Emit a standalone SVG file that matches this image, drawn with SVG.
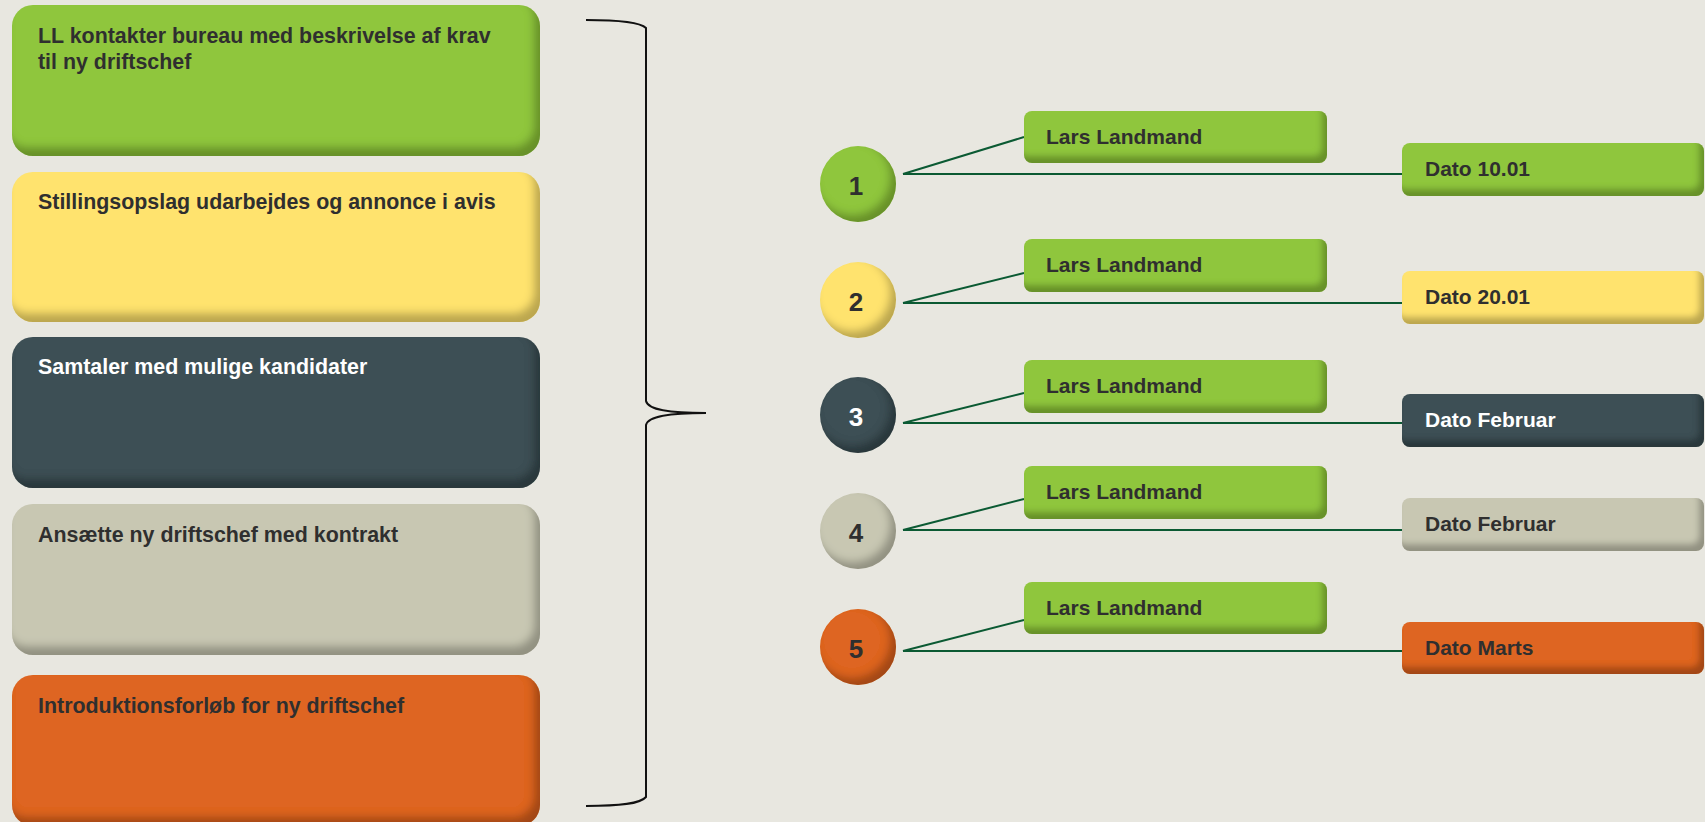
<svg xmlns="http://www.w3.org/2000/svg" width="1705" height="822" viewBox="0 0 1705 822">
<defs>
  <filter id="bevelL" x="-5%" y="-10%" width="110%" height="120%">
    <feGaussianBlur in="SourceAlpha" stdDeviation="4" result="blur"/>
    <feOffset in="blur" dx="-6" dy="-9" result="off"/>
    <feComposite in="SourceAlpha" in2="off" operator="out" result="edge"/>
    <feFlood flood-color="#000" flood-opacity="0.5"/>
    <feComposite in2="edge" operator="in" result="shadow"/>
    <feMerge><feMergeNode in="SourceGraphic"/><feMergeNode in="shadow"/></feMerge>
  </filter>
  <filter id="bevelS" x="-5%" y="-20%" width="110%" height="140%">
    <feGaussianBlur in="SourceAlpha" stdDeviation="3" result="blur"/>
    <feOffset in="blur" dx="-5" dy="-7" result="off"/>
    <feComposite in="SourceAlpha" in2="off" operator="out" result="edge"/>
    <feFlood flood-color="#000" flood-opacity="0.5"/>
    <feComposite in2="edge" operator="in" result="shadow"/>
    <feMerge><feMergeNode in="SourceGraphic"/><feMergeNode in="shadow"/></feMerge>
  </filter>
  <filter id="bevelC" x="-20%" y="-20%" width="140%" height="140%">
    <feGaussianBlur in="SourceAlpha" stdDeviation="4" result="blur"/>
    <feOffset in="blur" dx="-6" dy="-7" result="off"/>
    <feComposite in="SourceAlpha" in2="off" operator="out" result="edge"/>
    <feFlood flood-color="#000" flood-opacity="0.5"/>
    <feComposite in2="edge" operator="in" result="shadow"/>
    <feMerge><feMergeNode in="SourceGraphic"/><feMergeNode in="shadow"/></feMerge>
  </filter>
</defs>
<style>
  .t { font-family: "Liberation Sans", Arial, sans-serif; font-weight: bold; fill: #2f2f2f; }
  .big { font-size: 21.4px; }
  .sm { font-size: 21px; }
  .num { font-size: 26px; text-anchor: middle; }
  .w { fill: #ffffff; }
  .green { fill: #8fc63e; }
  .yellow { fill: #ffe36e; }
  .slate { fill: #3e5055; }
  .grey { fill: #c8c7b2; }
  .orange { fill: #de6522; }
  .bigbox { filter: url(#bevelL); }
  .smbox { filter: url(#bevelS); }
  .circ { filter: url(#bevelC); }
  .conn { stroke: #0b5a33; stroke-width: 2; fill: none; }
  .brace { stroke: #111; stroke-width: 2; fill: none; }
</style>
<rect width="1705" height="822" fill="#e8e7e0"/>

<g id="step1">
  <rect class="green bigbox" x="12" y="5" width="528" height="151" rx="21"/>
  <text class="t big" x="38" y="43">LL kontakter bureau med beskrivelse af krav</text>
  <text class="t big" x="38" y="69">til ny driftschef</text>
</g>
<g id="step2">
  <rect class="yellow bigbox" x="12" y="172" width="528" height="150" rx="21"/>
  <text class="t big" x="38" y="209">Stillingsopslag udarbejdes og annonce i avis</text>
</g>
<g id="step3">
  <rect class="slate bigbox" x="12" y="337" width="528" height="151" rx="21"/>
  <text class="t big w" x="38" y="374">Samtaler med mulige kandidater</text>
</g>
<g id="step4">
  <rect class="grey bigbox" x="12" y="504" width="528" height="151" rx="21"/>
  <text class="t big" x="38" y="542">Ansætte ny driftschef med kontrakt</text>
</g>
<g id="step5">
  <rect class="orange bigbox" x="12" y="675" width="528" height="151" rx="21"/>
  <text class="t big" x="38" y="713">Introduktionsforløb for ny driftschef</text>
</g>

<g id="brace">
  <path class="brace" d="M586,20 C620,20 640,22 646,28 L646,401 C648,410 670,413 706,413 C670,413 648,416 646,425 L646,797 C640,804 620,806 586,806"/>
</g>

<g id="connectors">
  <path class="conn" d="M903,174 L1024,137 M903,174 L1402,174"/>
  <path class="conn" d="M903,303 L1024,273 M903,303 L1402,303"/>
  <path class="conn" d="M903,423 L1024,393 M903,423 L1402,423"/>
  <path class="conn" d="M903,530 L1024,499 M903,530 L1402,530"/>
  <path class="conn" d="M903,651 L1024,620 M903,651 L1402,651"/>
</g>

<g id="c1"><circle class="green circ" cx="858" cy="184" r="38"/><text class="t num" x="856" y="195">1</text></g>
<g id="c2"><circle class="yellow circ" cx="858" cy="300" r="38"/><text class="t num" x="856" y="311">2</text></g>
<g id="c3"><circle class="slate circ" cx="858" cy="415" r="38"/><text class="t num w" x="856" y="426">3</text></g>
<g id="c4"><circle class="grey circ" cx="858" cy="531" r="38"/><text class="t num" x="856" y="542">4</text></g>
<g id="c5"><circle class="orange circ" cx="858" cy="647" r="38"/><text class="t num" x="856" y="658">5</text></g>

<g id="lars1"><rect class="green smbox" x="1024" y="111" width="303" height="52" rx="8"/><text class="t sm" x="1046" y="144">Lars Landmand</text></g>
<g id="lars2"><rect class="green smbox" x="1024" y="239" width="303" height="53" rx="8"/><text class="t sm" x="1046" y="272">Lars Landmand</text></g>
<g id="lars3"><rect class="green smbox" x="1024" y="360" width="303" height="53" rx="8"/><text class="t sm" x="1046" y="393">Lars Landmand</text></g>
<g id="lars4"><rect class="green smbox" x="1024" y="466" width="303" height="53" rx="8"/><text class="t sm" x="1046" y="499">Lars Landmand</text></g>
<g id="lars5"><rect class="green smbox" x="1024" y="582" width="303" height="52" rx="8"/><text class="t sm" x="1046" y="615">Lars Landmand</text></g>

<g id="dato1"><rect class="green smbox" x="1402" y="143" width="302" height="53" rx="8"/><text class="t sm" x="1425" y="176">Dato 10.01</text></g>
<g id="dato2"><rect class="yellow smbox" x="1402" y="271" width="302" height="53" rx="8"/><text class="t sm" x="1425" y="304">Dato 20.01</text></g>
<g id="dato3"><rect class="slate smbox" x="1402" y="394" width="302" height="53" rx="8"/><text class="t sm w" x="1425" y="427">Dato Februar</text></g>
<g id="dato4"><rect class="grey smbox" x="1402" y="498" width="302" height="53" rx="8"/><text class="t sm" x="1425" y="531">Dato Februar</text></g>
<g id="dato5"><rect class="orange smbox" x="1402" y="622" width="302" height="52" rx="8"/><text class="t sm" x="1425" y="655">Dato Marts</text></g>
</svg>
